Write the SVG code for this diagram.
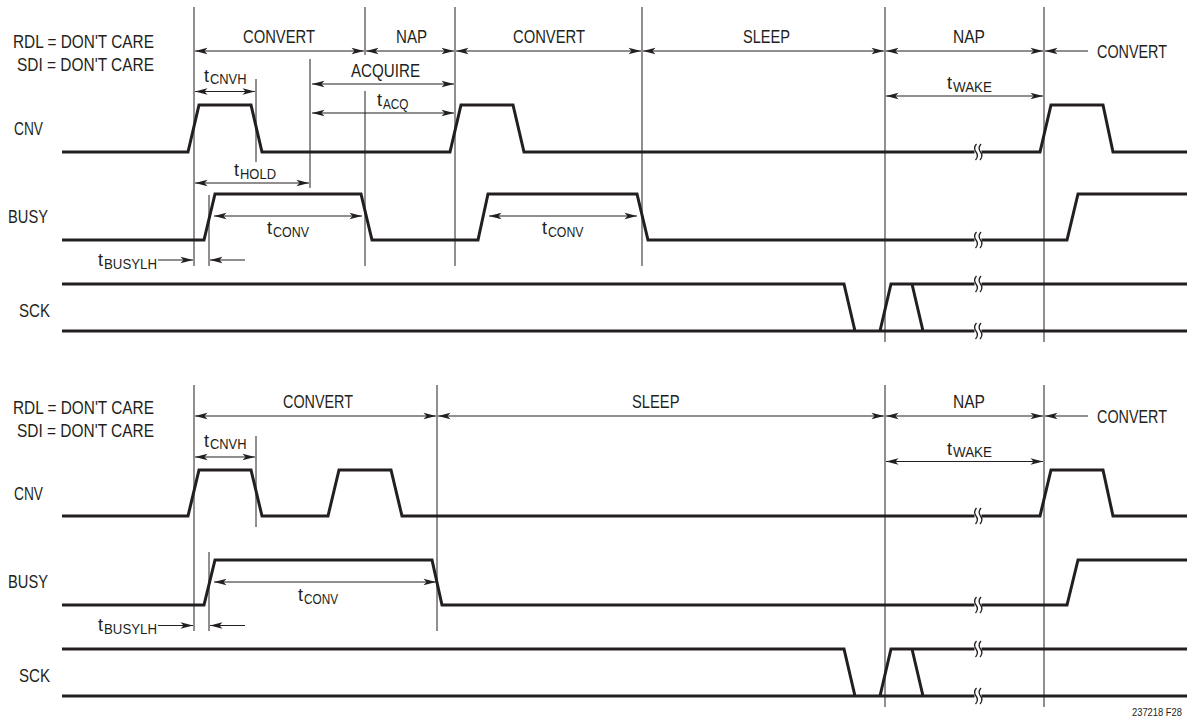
<svg xmlns="http://www.w3.org/2000/svg" width="1187" height="721" viewBox="0 0 1187 721">
<style>
.bg{fill:#ffffff}
.w{fill:none;stroke:#231f20;stroke-width:3;stroke-linejoin:miter}
.v{fill:none;stroke:#231f20;stroke-width:1}
.a{fill:none;stroke:#231f20;stroke-width:1.1}
.d{marker-start:url(#ah);marker-end:url(#ah)}
.e{marker-end:url(#ah)}
.t{font-family:"Liberation Sans",Arial,sans-serif;font-size:18px;fill:#231f20}
.s{font-family:"Liberation Sans",Arial,sans-serif;font-size:14px;fill:#231f20}
.gap{fill:#ffffff}
.sq{fill:none;stroke:#231f20;stroke-width:1.3}
</style>
<defs>
<marker id="ah" viewBox="-14 -5 15 10" refX="0" refY="0" markerWidth="15" markerHeight="10" markerUnits="userSpaceOnUse" orient="auto-start-reverse">
<path d="M0,0 L-12.5,-3.3 L-9.5,0 L-12.5,3.3 Z" fill="#231f20"/>
</marker>
<g id="brk">
<rect class="gap" x="-3.5" y="-3" width="7" height="6"/>
<path class="sq" d="M-1.5,-8 Q-5,-4 -2,0 Q1,4 -2.5,8"/>
<path class="sq" d="M3,-8 Q-0.5,-4 2.5,0 Q5.5,4 2,8"/>
</g>
</defs>
<rect class="bg" x="0" y="0" width="1187" height="721"/>

<g id="top-timing-lines">
<path class="v" d="M194,7V266 M365,7V55 M365,91V266 M455,7V266 M642,7V266 M885,7V342 M1044,7V342 M310,59V188 M256,79V162 M209,195V266"/>
</g>
<g id="bottom-timing-lines">
<path class="v" d="M194,385V631 M437,385V631 M885,385V707 M1044,385V707 M256,436V527 M209,552V631"/>
</g>

<g id="top-waveforms">
<path id="top-cnv" class="w" d="M62,152 H188 L199,105 H251 L262,152 H450 L461,105 H513 L524,152 H1040 L1051,105 H1103 L1113,152 H1187"/>
<path id="top-busy" class="w" d="M62,240 H204 L215,194 H361 L372,240 H478 L488,194 H637 L648,240 H1067 L1078,194 H1187"/>
<path id="top-sck" class="w" d="M62,284 H844 L855,331 H880 L891,284 H1187 M62,331 H1187 M912,284 L923,331"/>
<use href="#brk" x="978" y="152"/>
<use href="#brk" x="978" y="240"/>
<use href="#brk" x="978" y="284"/>
<use href="#brk" x="978" y="331"/>
</g>
<g id="bottom-waveforms">
<path id="bot-cnv" class="w" d="M62,516 H188 L199,470 H251 L262,516 H328 L339,470 H391 L402,516 H1040 L1051,470 H1103 L1113,516 H1187"/>
<path id="bot-busy" class="w" d="M62,605 H204 L215,560 H432 L442,605 H1067 L1078,560 H1187"/>
<path id="bot-sck" class="w" d="M62,649 H844 L855,696 H880 L891,649 H1187 M62,696 H1187 M912,649 L923,696"/>
<use href="#brk" x="978" y="516"/>
<use href="#brk" x="978" y="605"/>
<use href="#brk" x="978" y="649"/>
<use href="#brk" x="978" y="696"/>
</g>

<g id="connectors">
<line class="a d" x1="195" y1="51" x2="364" y2="51"/>
<line class="a d" x1="366" y1="51" x2="454" y2="51"/>
<line class="a d" x1="456" y1="51" x2="641" y2="51"/>
<line class="a d" x1="643" y1="51" x2="884" y2="51"/>
<line class="a d" x1="886" y1="51" x2="1043" y2="51"/>
<line class="a e" x1="1088" y1="51" x2="1045" y2="51"/>
<line class="a d" x1="312" y1="84" x2="454" y2="84"/>
<line class="a d" x1="312" y1="113" x2="454" y2="113"/>
<line class="a d" x1="195" y1="91.5" x2="255" y2="91.5"/>
<line class="a d" x1="886" y1="96" x2="1043" y2="96"/>
<line class="a d" x1="195" y1="183" x2="309" y2="183"/>
<line class="a d" x1="214" y1="216" x2="362" y2="216"/>
<line class="a d" x1="489" y1="216" x2="637" y2="216"/>
<line class="a e" x1="158" y1="260" x2="193" y2="260"/>
<line class="a e" x1="245" y1="260" x2="210" y2="260"/>

<line class="a d" x1="195" y1="416" x2="436" y2="416"/>
<line class="a d" x1="438" y1="416" x2="884" y2="416"/>
<line class="a d" x1="886" y1="416" x2="1043" y2="416"/>
<line class="a e" x1="1088" y1="416" x2="1045" y2="416"/>
<line class="a d" x1="195" y1="457" x2="255" y2="457"/>
<line class="a d" x1="886" y1="461.5" x2="1043" y2="461.5"/>
<line class="a d" x1="214" y1="582" x2="436" y2="582"/>
<line class="a e" x1="158" y1="625.5" x2="193" y2="625.5"/>
<line class="a e" x1="245" y1="625.5" x2="210" y2="625.5"/>
</g>

<g id="top-labels">
<text class="t" x="13" y="48" textLength="141" lengthAdjust="spacingAndGlyphs">RDL = DON'T CARE</text>
<text class="t" x="17" y="71" textLength="137" lengthAdjust="spacingAndGlyphs">SDI = DON'T CARE</text>
<text class="t" x="243" y="42.5" textLength="72" lengthAdjust="spacingAndGlyphs">CONVERT</text>
<text class="t" x="396" y="42.5" textLength="31" lengthAdjust="spacingAndGlyphs">NAP</text>
<text class="t" x="513" y="42.5" textLength="72" lengthAdjust="spacingAndGlyphs">CONVERT</text>
<text class="t" x="743" y="42.5" textLength="47" lengthAdjust="spacingAndGlyphs">SLEEP</text>
<text class="t" x="953" y="42.5" textLength="32" lengthAdjust="spacingAndGlyphs">NAP</text>
<text class="t" x="1097" y="58" textLength="70" lengthAdjust="spacingAndGlyphs">CONVERT</text>
<text class="t" x="351" y="77" textLength="69" lengthAdjust="spacingAndGlyphs">ACQUIRE</text>
<text class="t" x="14" y="134.5" textLength="29" lengthAdjust="spacingAndGlyphs">CNV</text>
<text class="t" x="8" y="223" textLength="40" lengthAdjust="spacingAndGlyphs">BUSY</text>
<text class="t" x="19" y="316.5" textLength="31" lengthAdjust="spacingAndGlyphs">SCK</text>
<text class="t" x="204" y="81.5">t</text><text class="s" x="210" y="84" textLength="36.5" lengthAdjust="spacingAndGlyphs">CNVH</text>
<text class="t" x="377" y="106">t</text><text class="s" x="383" y="108.5" textLength="25.5" lengthAdjust="spacingAndGlyphs">ACQ</text>
<text class="t" x="947" y="89">t</text><text class="s" x="953" y="91.5" textLength="39" lengthAdjust="spacingAndGlyphs">WAKE</text>
<text class="t" x="234" y="175.5">t</text><text class="s" x="240" y="178.5" textLength="36" lengthAdjust="spacingAndGlyphs">HOLD</text>
<text class="t" x="267" y="233.5">t</text><text class="s" x="273" y="236.5" textLength="36" lengthAdjust="spacingAndGlyphs">CONV</text>
<text class="t" x="542" y="233.5">t</text><text class="s" x="548" y="236.5" textLength="35.5" lengthAdjust="spacingAndGlyphs">CONV</text>
<text class="t" x="98" y="266">t</text><text class="s" x="104" y="269" textLength="53" lengthAdjust="spacingAndGlyphs">BUSYLH</text>
</g>

<g id="bottom-labels">
<text class="t" x="13" y="413.5" textLength="141" lengthAdjust="spacingAndGlyphs">RDL = DON'T CARE</text>
<text class="t" x="17" y="436.5" textLength="137" lengthAdjust="spacingAndGlyphs">SDI = DON'T CARE</text>
<text class="t" x="283" y="407.5" textLength="70" lengthAdjust="spacingAndGlyphs">CONVERT</text>
<text class="t" x="632" y="407.5" textLength="47.5" lengthAdjust="spacingAndGlyphs">SLEEP</text>
<text class="t" x="953" y="407.5" textLength="32" lengthAdjust="spacingAndGlyphs">NAP</text>
<text class="t" x="1097" y="423" textLength="70" lengthAdjust="spacingAndGlyphs">CONVERT</text>
<text class="t" x="14" y="499.5" textLength="29" lengthAdjust="spacingAndGlyphs">CNV</text>
<text class="t" x="8" y="588" textLength="40" lengthAdjust="spacingAndGlyphs">BUSY</text>
<text class="t" x="19" y="682" textLength="31" lengthAdjust="spacingAndGlyphs">SCK</text>
<text class="t" x="204" y="446.5">t</text><text class="s" x="210" y="449" textLength="36.5" lengthAdjust="spacingAndGlyphs">CNVH</text>
<text class="t" x="947" y="454.5">t</text><text class="s" x="953" y="457" textLength="39" lengthAdjust="spacingAndGlyphs">WAKE</text>
<text class="t" x="298" y="601">t</text><text class="s" x="304" y="603.5" textLength="34" lengthAdjust="spacingAndGlyphs">CONV</text>
<text class="t" x="98" y="631">t</text><text class="s" x="104" y="634" textLength="53" lengthAdjust="spacingAndGlyphs">BUSYLH</text>
<text class="t" x="1132" y="715.5" style="font-size:10.5px" textLength="50" lengthAdjust="spacingAndGlyphs">237218 F28</text>
</g>
</svg>
